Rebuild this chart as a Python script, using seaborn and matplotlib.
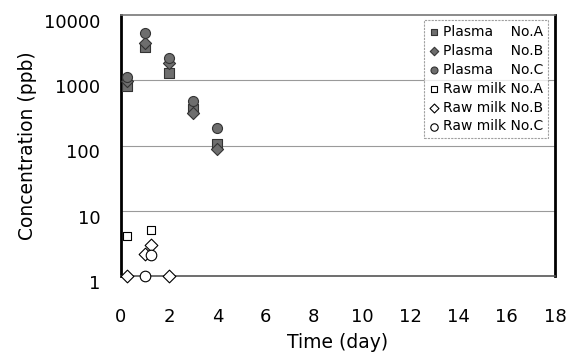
import numpy as np
import pandas as pd
import matplotlib
matplotlib.use("Agg")
import matplotlib.pyplot as plt
import matplotlib.transforms as mtransforms
import seaborn as sns

# ---- data ----
plasma_days = [0.25, 1, 2, 3, 4]
plasma_A = [820, 3200, 1310, 367, 104]
plasma_B = [960, 3700, 1820, 315, 89]
plasma_C = [1130, 5240, 2220, 480, 185]

milk_A_days = [0.25, 1.25]
milk_A = [4.1, 5.0]
milk_B_days = [0.25, 1, 1.25, 2]
milk_B = [1, 2.2, 3.0, 1]
milk_C_days = [1, 1.25]
milk_C = [1, 2.1]

labels = ["Plasma    No.A", "Plasma    No.B", "Plasma    No.C",
          "Raw milk No.A", "Raw milk No.B", "Raw milk No.C"]
x_ticks = [0, 2, 4, 6, 8, 10, 12, 14, 16, 18]
y_ticks = [1, 10, 100, 1000, 10000]

series = [
    (plasma_days, plasma_A, labels[0]),
    (plasma_days, plasma_B, labels[1]),
    (plasma_days, plasma_C, labels[2]),
    (milk_A_days, milk_A, labels[3]),
    (milk_B_days, milk_B, labels[4]),
    (milk_C_days, milk_C, labels[5]),
]
frames = [pd.DataFrame({"day": d, "conc": v, "series": s}) for d, v, s in series]
df = pd.concat(frames, ignore_index=True)

sns.set_style("white")
plt.rcParams["font.family"] = ["DejaVu Sans"]
plt.rcParams["text.color"] = "black"
plt.rcParams["axes.labelcolor"] = "black"
plt.rcParams["xtick.color"] = "black"
plt.rcParams["ytick.color"] = "black"

fig = plt.figure(figsize=(5.78, 3.61), dpi=100)
ax = fig.add_axes([121/578, 1-276/361, 434/578, 261/361])

markers = {labels[0]: "s", labels[1]: "D", labels[2]: "o",
           labels[3]: "s", labels[4]: "D", labels[5]: "o"}
sizes = {labels[0]: 42, labels[1]: 38, labels[2]: 52,
         labels[3]: 38, labels[4]: 42, labels[5]: 58}

for lab in labels:
    sub = df[df["series"] == lab]
    filled = lab.startswith("Plasma")
    sns.scatterplot(data=sub, x="day", y="conc", ax=ax, marker=markers[lab],
                    s=sizes[lab], color="#6e6e6e" if filled else "white",
                    edgecolor="#333333" if filled else "black",
                    linewidth=0.8, label=lab, clip_on=False, zorder=5)

ax.set_yscale("log")
ax.set_xlim(0, 18)
ax.set_ylim(1, 10000)
ax.set_xticks(x_ticks)
ax.set_xticklabels([str(t) for t in x_ticks])
ax.set_yticks(y_ticks)
ax.set_yticklabels([str(t) for t in y_ticks])
ax.minorticks_off()
ax.tick_params(axis="x", direction="in", length=4, width=0.6, color="#555555",
               pad=23, labelsize=13)
ax.tick_params(axis="y", direction="in", length=3, width=0.6, color="#555555",
               pad=15, labelsize=13)
offset = mtransforms.ScaledTranslation(0, -6/100, fig.dpi_scale_trans)
for lbl in ax.get_yticklabels():
    lbl.set_transform(lbl.get_transform() + offset)

for yv in [10, 100, 1000]:
    ax.axhline(yv, color="#9a9a9a", lw=0.8, zorder=1)

ax.spines["left"].set_linewidth(2.0)
ax.spines["left"].set_color("black")
ax.spines["right"].set_linewidth(2.0)
ax.spines["right"].set_color("black")
ax.spines["top"].set_linewidth(1.2)
ax.spines["top"].set_color("#777777")
ax.spines["top"].set_linestyle((0, (1, 1)))
ax.spines["bottom"].set_linewidth(1.2)
ax.spines["bottom"].set_color("#555555")

ax.set_xlabel("Time (day)", fontsize=13.5, labelpad=5)
ax.set_ylabel("Concentration (ppb)", fontsize=13.5, labelpad=5)

leg = ax.legend(loc="upper right", bbox_to_anchor=(0.985, 0.98), fontsize=10,
                frameon=True, fancybox=False, handlelength=0.7,
                handletextpad=0.35, labelspacing=0.35, borderpad=0.35,
                markerscale=0.7, borderaxespad=0)
leg.get_frame().set_edgecolor("#888888")
leg.get_frame().set_linestyle((0, (2, 1)))
leg.get_frame().set_linewidth(0.8)

fig.savefig("out.png", dpi=100)
